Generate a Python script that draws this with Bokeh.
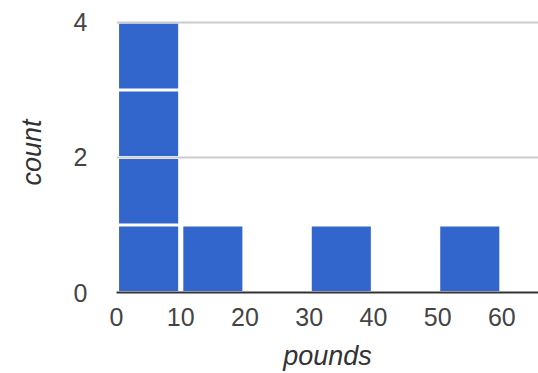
from bokeh.plotting import figure
from bokeh.models import FixedTicker, Range1d, ColumnDataSource
from bokeh.embed import file_html
from bokeh.resources import INLINE

# Data
bin_starts = [0, 10, 20, 30, 40, 50]
bin_width = 10
counts = [4, 1, 0, 1, 0, 1]
x_ticks = [0, 10, 20, 30, 40, 50, 60]
y_ticks = [0, 2, 4]

# Build stacked unit blocks (Google-style histogram)
h_inset = 0.4
v_inset = 0.022
left, right, bottom, top = [], [], [], []
for s, c in zip(bin_starts, counts):
    for k in range(c):
        left.append(s + h_inset)
        right.append(s + bin_width - h_inset)
        bottom.append(k + v_inset)
        top.append(k + 1 - v_inset)
src = ColumnDataSource(dict(left=left, right=right, bottom=bottom, top=top))

p = figure(width=538, height=373, output_backend="svg", toolbar_location=None,
           x_range=Range1d(0, 65.7), y_range=Range1d(0, 4.146),
           min_border_left=116, min_border_right=0, min_border_top=12, min_border_bottom=77)
p.outline_line_color = None
p.background_fill_color = "white"
p.border_fill_color = "white"

p.quad(left="left", right="right", bottom="bottom", top="top", source=src,
       fill_color="#3366CC", line_color=None)

FONT = "Liberation Sans"

p.xgrid.grid_line_color = None
p.ygrid.grid_line_color = "#cccccc"
p.ygrid.grid_line_width = 2
p.yaxis.ticker = FixedTicker(ticks=y_ticks)
p.xaxis.ticker = FixedTicker(ticks=x_ticks)

for ax in (p.xaxis[0], p.yaxis[0]):
    ax.major_tick_line_color = None
    ax.minor_tick_line_color = None
    ax.major_tick_in = 0
    ax.major_tick_out = 0
    ax.major_label_text_font = FONT
    ax.major_label_text_font_size = "25px"
    ax.major_label_text_color = "#444444"
    ax.axis_label_text_font = FONT
    ax.axis_label_text_font_size = "27px"
    ax.axis_label_text_font_style = "italic"
    ax.axis_label_text_color = "#333333"

p.yaxis.axis_line_color = None
p.yaxis.major_label_standoff = 29
p.yaxis.axis_label = "count"
p.yaxis.axis_label_standoff = 24

p.xaxis.axis_line_color = "#333333"
p.xaxis.axis_line_width = 2
p.xaxis.major_label_standoff = 15
p.xaxis.axis_label = "pounds"
p.xaxis.axis_label_standoff = 12

open("out.html", "w").write(file_html(p, INLINE))
